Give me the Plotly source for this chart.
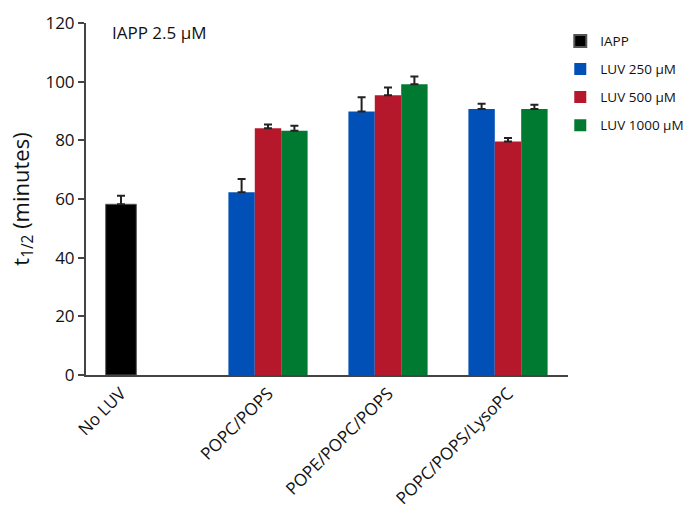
import plotly.graph_objects as go

# categories and positions
categories = ["No LUV", "POPC/POPS", "POPE/POPC/POPS", "POPC/POPS/LysoPC"]
cat_pos = [0.0, 1.225, 2.225, 3.225]

# IAPP alone (no LUV)
iapp_val = [58.2]
iapp_err = [2.9]

# LUV series (values for POPC/POPS, POPE/POPC/POPS, POPC/POPS/LysoPC)
series_names = ["LUV 250 μM", "LUV 500 μM", "LUV 1000 μM"]
series_vals = [
    [62.3, 89.8, 90.7],
    [84.1, 95.4, 79.6],
    [83.3, 99.1, 90.7],
]
series_errs = [
    [4.5, 4.9, 1.8],
    [1.3, 2.6, 1.2],
    [1.7, 2.7, 1.4],
]
series_colors = ["#0050B8", "#B5182B", "#007A30"]

bar_w = 0.22
black_w = 0.255
err_style = dict(type="data", symmetric=False, color="#222222", thickness=2, width=4)

fig = go.Figure()
fig.add_trace(go.Bar(
    x=[cat_pos[0]], y=iapp_val, name="IAPP", marker_color="#000000",
    width=black_w, offset=-black_w / 2, legendgroup="g0",
    marker_line=dict(width=1, color="#555555"),
    error_y=dict(array=iapp_err, arrayminus=[0], **err_style),
))
for k, (nm, vals, errs, col) in enumerate(zip(series_names, series_vals, series_errs, series_colors)):
    fig.add_trace(go.Bar(
        x=cat_pos[1:], y=vals, name=nm, marker_color=col,
        width=bar_w, offset=-1.5 * bar_w + k * bar_w, legendgroup=f"g{k+1}",
        marker_line_width=0,
        error_y=dict(array=errs, arrayminus=[0] * len(errs), **err_style),
    ))

fig.update_layout(
    width=696, height=514,
    margin=dict(l=86, r=128, t=23, b=139, autoexpand=False),
    paper_bgcolor="white", plot_bgcolor="white",
    barmode="overlay",
    font=dict(family="Open Sans", color="#222222", size=16),
    showlegend=True,
    legend=dict(xref="container", yref="container", x=0.805, y=0.95,
                xanchor="left", yanchor="top",
                font=dict(size=13.5, color="#111111"), itemwidth=30,
                tracegroupgap=7.5, itemsizing="constant"),
    xaxis=dict(
        range=[-0.2917, 3.725], tickmode="array", tickvals=cat_pos, ticktext=categories,
        tickangle=-45, ticks="", showline=True, linecolor="#444444", linewidth=2,
        showgrid=False, zeroline=False, tickfont=dict(size=17, color="#111111"),
    ),
    yaxis=dict(
        range=[0, 120], tickmode="array", tickvals=[0, 20, 40, 60, 80, 100, 120],
        ticks="outside", ticklen=6, tickwidth=2, tickcolor="#444444",
        showline=True, linecolor="#444444", linewidth=2, showgrid=False, zeroline=False,
        tickfont=dict(size=17, color="#111111"),
        title=dict(text="t<sub>1/2</sub> (minutes)", font=dict(size=22, color="#111111"), standoff=10),
    ),
    annotations=[dict(text="IAPP 2.5 μM", x=0.05, y=1.01, xref="paper", yref="paper",
                      xanchor="left", yanchor="top", showarrow=False,
                      font=dict(size=17, color="#111111"))],
)

fig.write_html("out.html")
